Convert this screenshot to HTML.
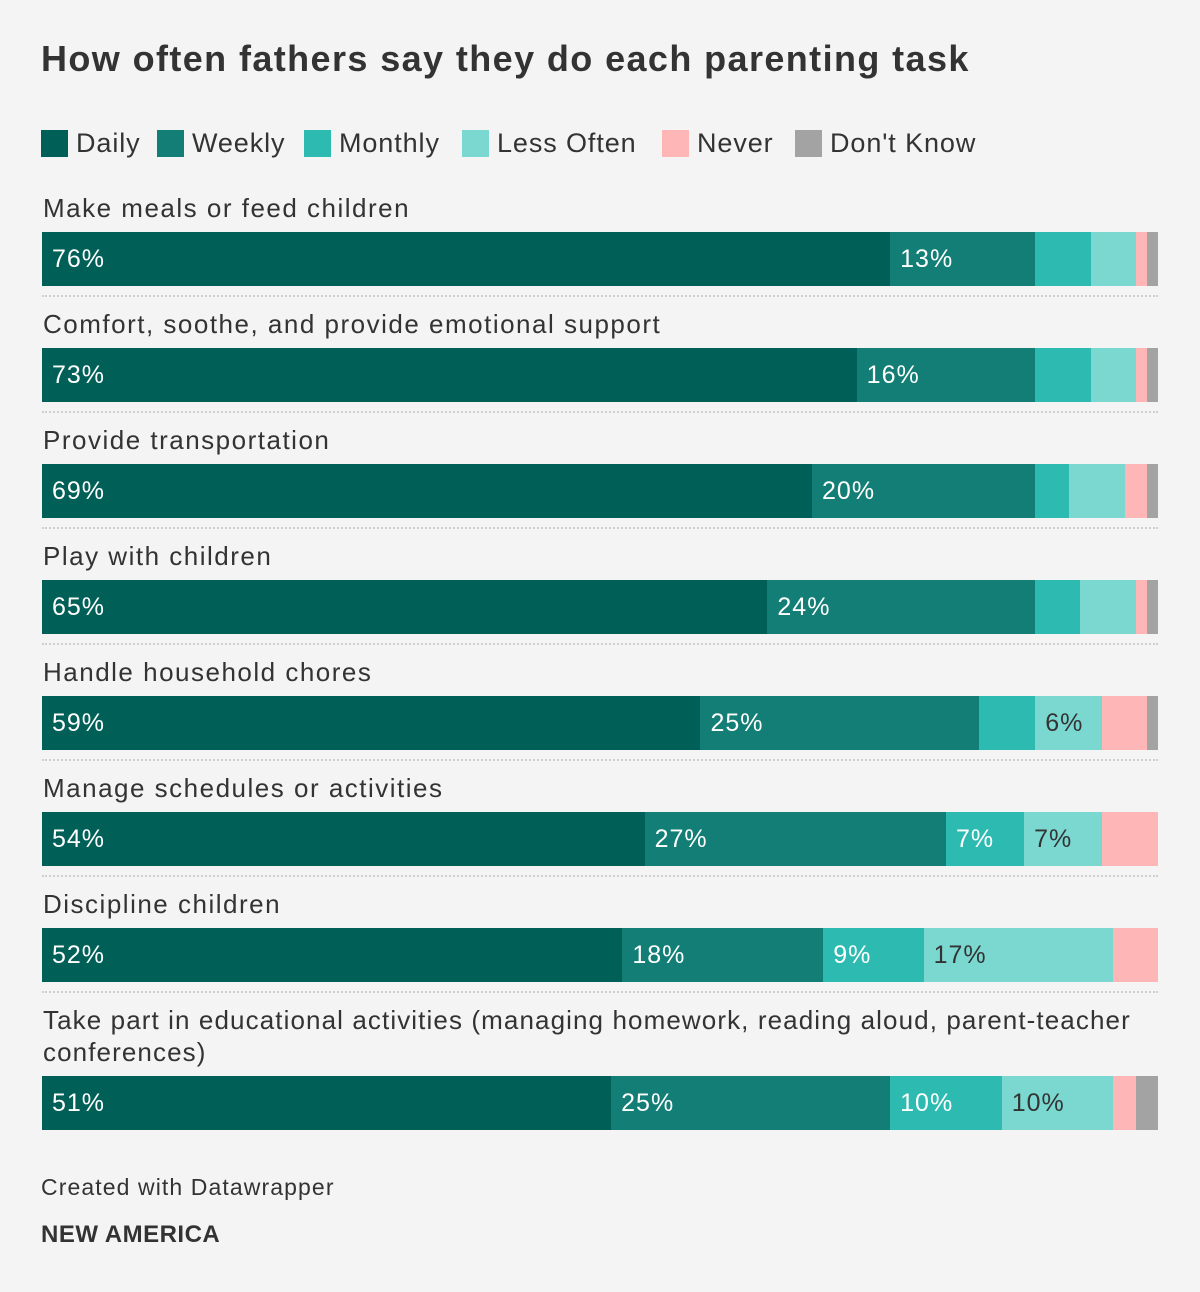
<!DOCTYPE html>
<html><head><meta charset="utf-8">
<style>
body{margin:0;background:#f4f4f4;font-family:"Liberation Sans",sans-serif;color:#222;}
#wrap{position:relative;width:1200px;height:1292px;}
.abs{position:absolute;}
h1{position:absolute;left:41px;top:38px;margin:0;font-size:36px;font-weight:bold;color:#333;letter-spacing:1.4px}
.leg{position:absolute;top:128px;font-size:27px;color:#333;display:flex;align-items:center;letter-spacing:0.9px}
.sw{width:27px;height:27px;display:inline-block;margin-right:8px}
.rl{position:absolute;left:43px;font-size:26px;color:#333;line-height:32px;letter-spacing:1.5px;white-space:pre}
.seg{position:absolute;height:54px;box-sizing:border-box;font-size:25px;line-height:54px;padding-left:10px;white-space:nowrap;overflow:hidden;letter-spacing:1px}
.sep{position:absolute;left:42px;width:1116px;border-top:2px dotted #cfcfcf}
</style></head><body>
<div id="wrap">
<h1>How often fathers say they do each parenting task</h1>
<div id="legend"></div>
<div id="rows"></div>
<div class="abs" style="left:41px;top:1174px;font-size:23px;color:#333;letter-spacing:1.1px">Created with Datawrapper</div>
<div class="abs" style="left:41px;top:1221px;font-size:24px;font-weight:bold;color:#333;letter-spacing:0.5px">NEW AMERICA</div>
</div>
<script>
const categories=["Daily","Weekly","Monthly","Less Often","Never","Don't Know"];
const colors=["#005f56","#127e75","#2dbbb1","#7ad8d1","#ffb6b7","#a3a3a3"];
const textColors=["#fff","#fff","#fff","#333","#333","#333"];
const tasks=["Make meals or feed children","Comfort, soothe, and provide emotional support","Provide transportation","Play with children","Handle household chores","Manage schedules or activities","Discipline children","Take part in educational activities (managing homework, reading aloud, parent-teacher conferences)"];
const daily=[76,73,69,65,59,54,52,51];
const weekly=[13,16,20,24,25,27,18,25];
const monthly=[5,5,3,4,5,7,9,10];
const lessOften=[4,4,5,5,6,7,17,10];
const never=[1,1,2,1,4,5,4,2];
const dontKnow=[1,1,1,1,1,0,0,2];
const series=[daily,weekly,monthly,lessOften,never,dontKnow];
const legX=[41,157,304,462,662,795];
const leg=document.getElementById('legend');
categories.forEach((c,i)=>{
 const d=document.createElement('div');d.className='leg';d.style.left=legX[i]+'px';
 
 
 d.innerHTML='<span class="sw" style="background:'+colors[i]+'"></span>'+c;
 leg.appendChild(d);
});
const x0=42,W=1116;
const xs=v=>v/100*W;
const rows=document.getElementById('rows');
let y=192;
tasks.forEach((t,r)=>{
 const lab=document.createElement('div');lab.className='rl';lab.style.top=y+'px';
 if(r===7)lab.style.letterSpacing='1.1px';
 lab.textContent=r===7?t.replace(' conferences','\nconferences'):t;
 
 
 rows.appendChild(lab);
 const by=y+40+(r===7?32:0);
 let acc=0;
 series.forEach((s,i)=>{
  const v=s[r];if(v<=0)return;
  const seg=document.createElement('div');seg.className='seg';
  seg.style.left=(x0+xs(acc))+'px';seg.style.top=by+'px';seg.style.width=xs(v)+'px';
  seg.style.background=colors[i];seg.style.color=textColors[i];
  if(v>=6)seg.textContent=v+'%';
  
  
  rows.appendChild(seg);acc+=v;
 });
 if(r<7){const sp=document.createElement('div');sp.className='sep';sp.style.top=(by+63)+'px';
  
  
  rows.appendChild(sp);}
 y+=116;
});
</script>
</body></html>
